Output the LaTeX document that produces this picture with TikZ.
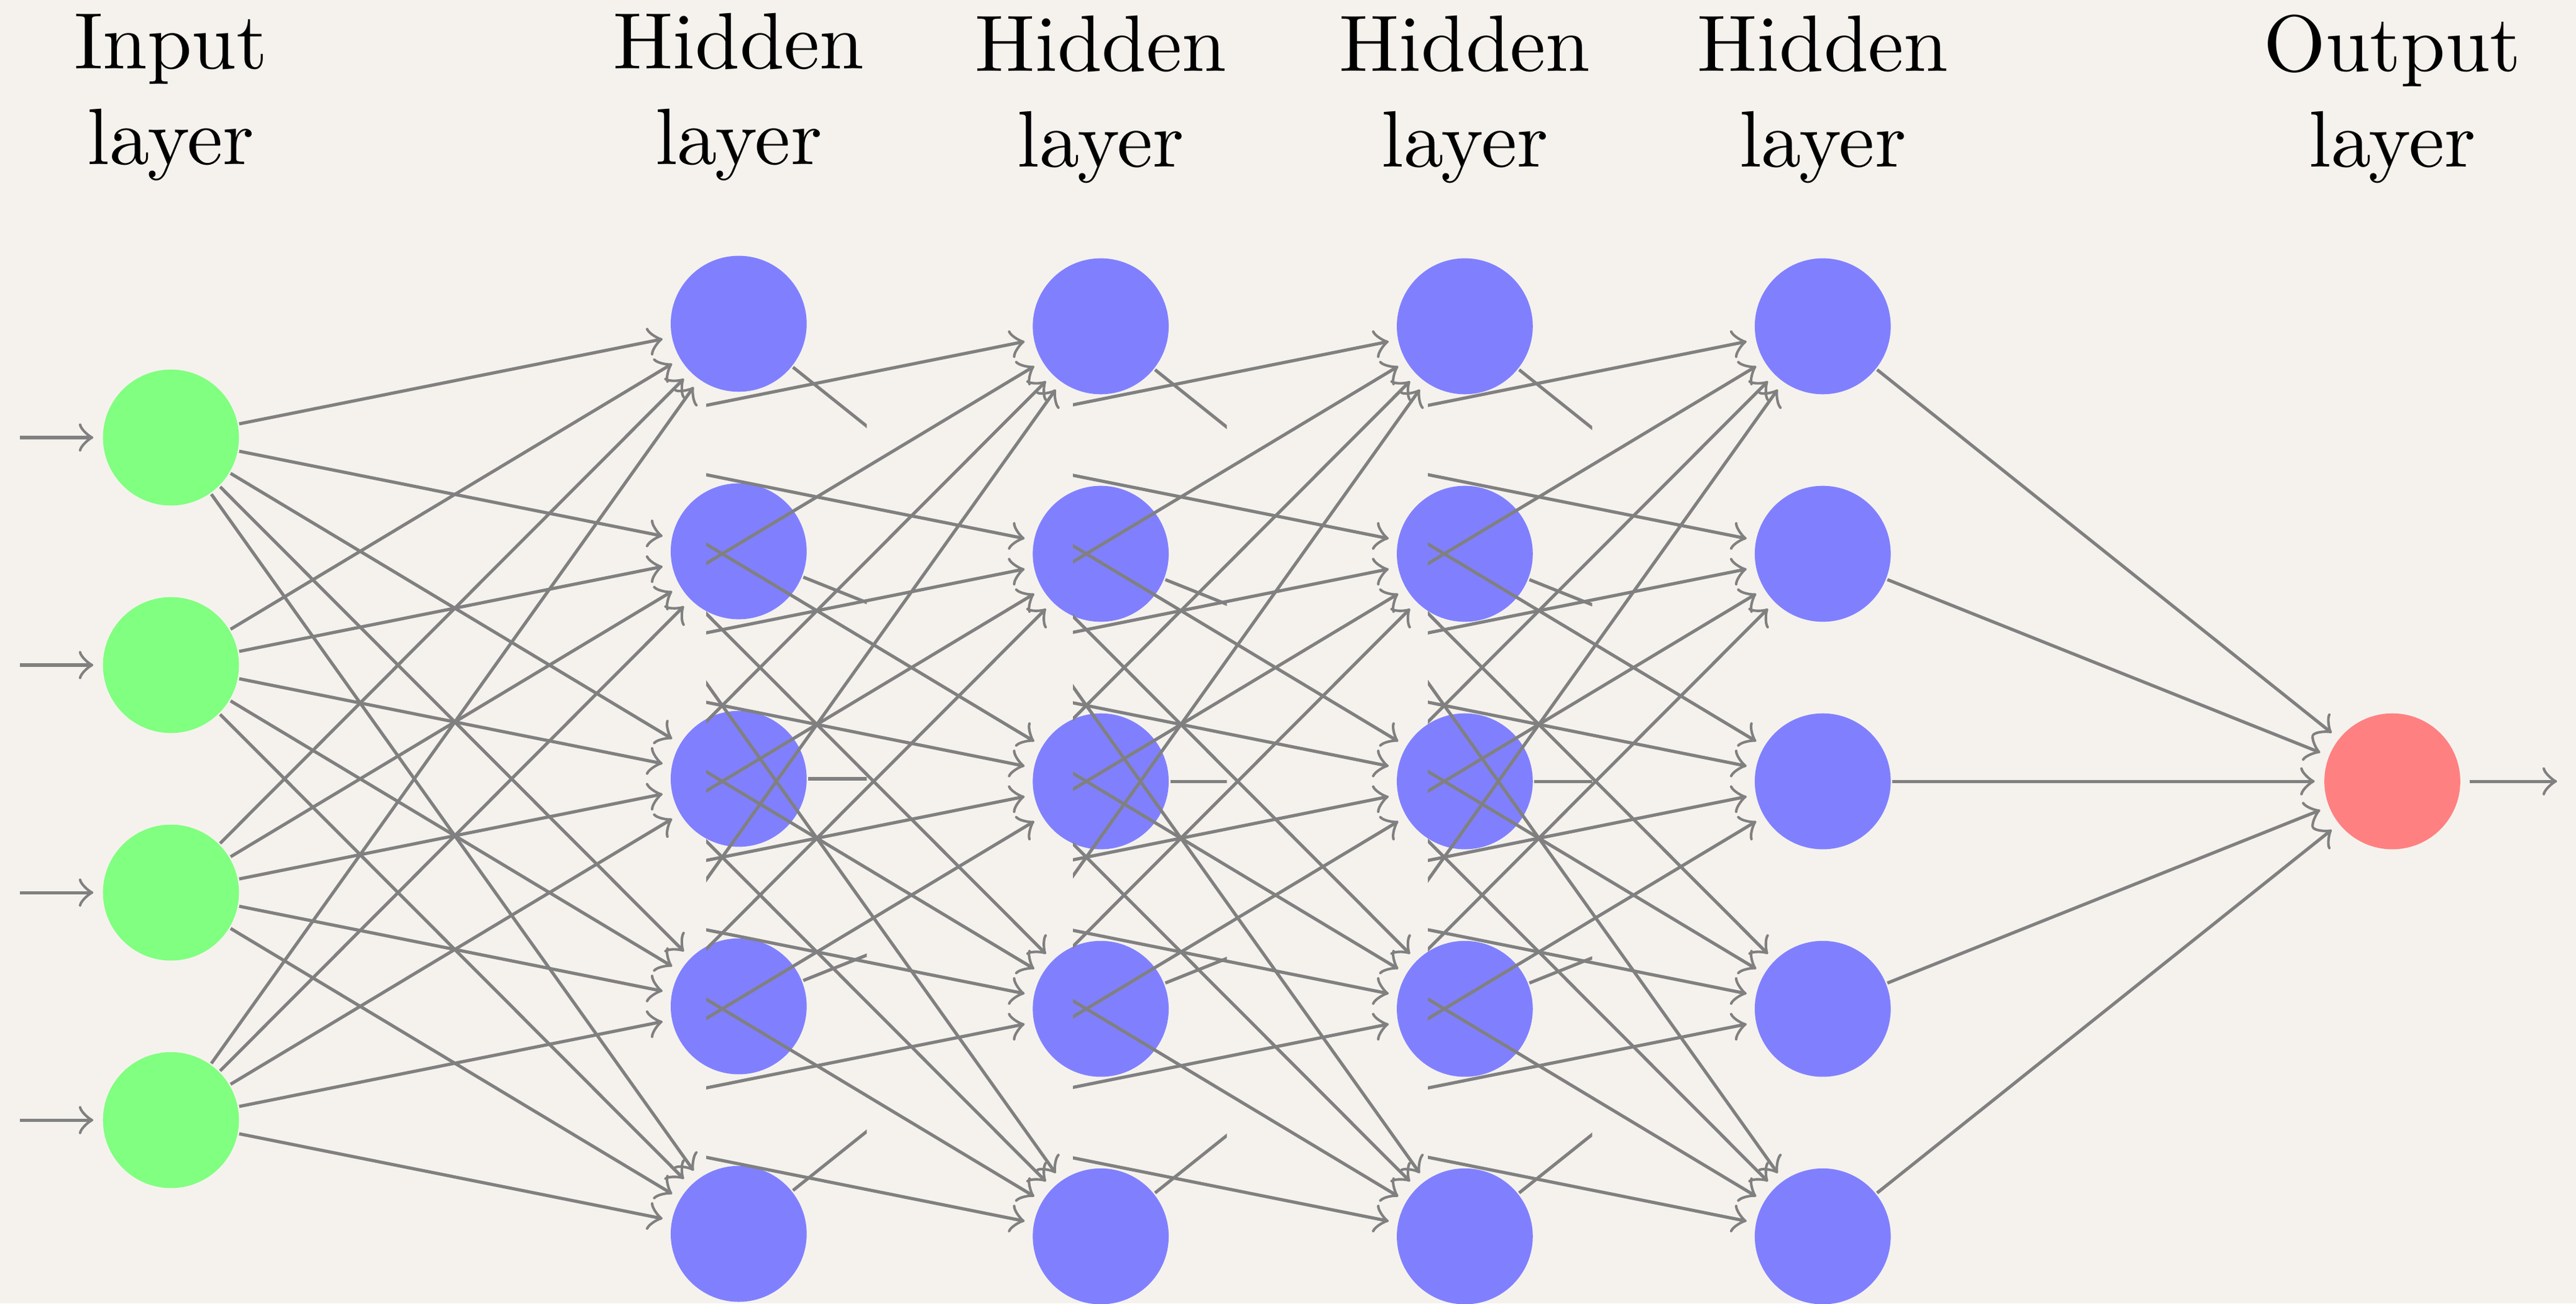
\documentclass[tikz,border=0pt]{standalone}
\definecolor{paper}{RGB}{245,242,237}
\begin{document}
\begin{tikzpicture}[
  >=to,
  edgeline/.style={draw=black!50, line width=0.4pt, ->, shorten >=1pt},
  stubline/.style={draw=black!50, line width=0.4pt},
  pinout/.style={draw=black!50, line width=0.4pt, ->, shorten <=1pt},
  neuron/.style={circle, minimum size=17pt, inner sep=0pt},
  input neuron/.style={neuron, fill=green!50},
  hidden neuron/.style={neuron, fill=blue!50},
  output neuron/.style={neuron, fill=red!50},
  annot/.style={align=center, anchor=base, font=\normalsize},
]
\useasboundingbox (-0.7513,-4.8057) rectangle (10.5693,0.9229);
\fill[paper] (-0.7513,-4.8057) rectangle (10.5693,0.9229);

% ---------- base: input layer and first hidden layer ----------
\node[annot] (lab-in) at (0,0.2007) {Input\\layer};
\node[annot] (lab-h1) at (2.495,0.2007) {Hidden\\layer};
\foreach \i in {1,...,4} {
  \node[input neuron] (I-\i) at (0,-\i) {};
  \coordinate (in-\i) at (-0.663,-\i);
  \draw[edgeline] (in-\i) -- (I-\i);
}
\foreach \j in {1,...,5}
  \node[hidden neuron] (H1-\j) at (2.495,0.5-\j) {};
\foreach \i in {1,...,4}
  \foreach \j in {1,...,5}
    \draw[edgeline] (I-\i) -- (H1-\j);
\coordinate (GO-1) at (4.995,-2.5);
\begin{scope}
  \clip (-1,-6) rectangle (3.058,2);
  \foreach \j in {1,...,5} \draw[stubline] (H1-\j) -- (GO-1);
\end{scope}

% ---------- second hidden layer ----------
\begin{scope}[yshift=-0.011cm]
  \node[annot] (lab-h2) at (4.086,0.2007) {Hidden\\layer};
  \foreach \j in {1,...,5}
    \node[hidden neuron] (H2-\j) at (4.086,0.5-\j) {};
  \foreach \i in {1,...,4} \coordinate (GI2-\i) at (1.591,-\i);
  \coordinate (GO-2) at (6.586,-2.5);
  \begin{scope}
    \clip (2.352,-6) rectangle (4.640,2);
    \foreach \i in {1,...,4}
      \foreach \j in {1,...,5}
        \draw[edgeline] (GI2-\i) -- (H2-\j);
    \foreach \j in {1,...,5} \draw[stubline] (H2-\j) -- (GO-2);
  \end{scope}
\end{scope}

% ---------- third hidden layer ----------
\begin{scope}[yshift=-0.011cm]
  \node[annot] (lab-h3) at (5.686,0.2007) {Hidden\\layer};
  \foreach \j in {1,...,5}
    \node[hidden neuron] (H3-\j) at (5.686,0.5-\j) {};
  \foreach \i in {1,...,4} \coordinate (GI3-\i) at (3.191,-\i);
  \coordinate (GO-3) at (8.186,-2.5);
  \begin{scope}
    \clip (3.964,-6) rectangle (6.246,2);
    \foreach \i in {1,...,4}
      \foreach \j in {1,...,5}
        \draw[edgeline] (GI3-\i) -- (H3-\j);
    \foreach \j in {1,...,5} \draw[stubline] (H3-\j) -- (GO-3);
  \end{scope}
\end{scope}

% ---------- fourth hidden layer and output ----------
\begin{scope}[yshift=-0.011cm]
  \node[annot] (lab-h4) at (7.259,0.2007) {Hidden\\layer};
  \node[annot] (lab-out) at (9.762,0.2007) {Output\\layer};
  \foreach \j in {1,...,5}
    \node[hidden neuron] (H4-\j) at (7.259,0.5-\j) {};
  \node[output neuron] (O) at (9.762,-2.5) {};
  \coordinate (out) at (10.486,-2.5);
  \foreach \i in {1,...,4} \coordinate (GI4-\i) at (4.764,-\i);
  \begin{scope}
    \clip (5.524,-6) rectangle (11,2);
    \foreach \i in {1,...,4}
      \foreach \j in {1,...,5}
        \draw[edgeline] (GI4-\i) -- (H4-\j);
  \end{scope}
  \foreach \j in {1,...,5} \draw[edgeline] (H4-\j) -- (O);
  \draw[pinout] (O) -- (out);
\end{scope}
\end{tikzpicture}
\end{document}
